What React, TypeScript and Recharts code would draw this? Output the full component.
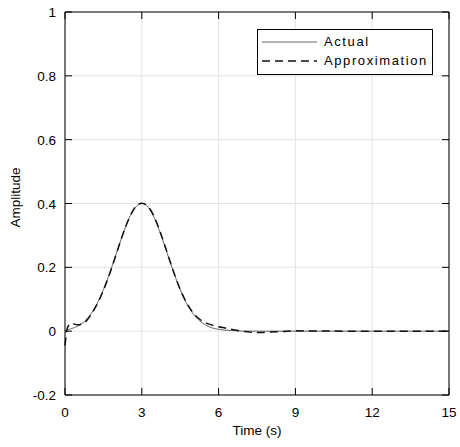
import React from 'react';
import { LineChart, Line, XAxis, YAxis, CartesianGrid, Legend } from 'recharts';

const times = [0, 0.1, 0.25, 0.5, 0.75, 1, 1.25, 1.5, 1.75, 2, 2.25, 2.5, 2.75, 3, 3.25, 3.5, 3.75, 4, 4.25, 4.5, 4.75, 5, 5.25, 5.5, 5.75, 6, 6.25, 6.5, 6.75, 7, 7.25, 7.5, 7.75, 8, 8.5, 9, 10, 11, 12, 13, 14, 15];
const actual = [0.0, 0.004, 0.008, 0.016, 0.03, 0.053, 0.086, 0.13, 0.183, 0.242, 0.302, 0.353, 0.388, 0.4, 0.388, 0.353, 0.301, 0.242, 0.183, 0.13, 0.087, 0.055, 0.033, 0.019, 0.01, 0.006, 0.003, 0.002, 0.001, 0, 0, 0, 0, 0, 0, 0, 0, 0, 0, 0, 0, 0];
const approx = [-0.045, 0.012, 0.024, 0.02, 0.026, 0.05, 0.084, 0.128, 0.181, 0.241, 0.301, 0.353, 0.389, 0.401, 0.39, 0.356, 0.304, 0.244, 0.184, 0.131, 0.089, 0.058, 0.038, 0.026, 0.019, 0.014, 0.01, 0.006, 0.002, -0.001, -0.003, -0.004, -0.004, -0.003, -0.001, 0.001, 0.0005, 0, 0, 0, 0, 0];

const xTicks = [0, 3, 6, 9, 12, 15];
const yTicks = [-0.2, 0, 0.2, 0.4, 0.6, 0.8, 1];

const seriesNames = { actual: 'Actual', approx: 'Approximation' };

const data = times.map((t, i) => ({ t, actual: actual[i], approx: approx[i] }));

const FONT = '"Liberation Sans", Arial, Helvetica, sans-serif';
const TICK_LEN = 7;

const BottomTick = (props: any) => {
  const { x, y, payload } = props;
  return (
    <text x={x} y={y + 22} textAnchor="middle" fontFamily={FONT} fontSize={13.5} fill="#000">
      {payload.value}
    </text>
  );
};

const LeftTick = (props: any) => {
  const { x, y, payload } = props;
  return (
    <text x={x} y={y + 5} textAnchor="end" fontFamily={FONT} fontSize={13.5} fill="#000">
      {payload.value}
    </text>
  );
};

const NoText = () => <g />;

const YLabel = (props: any) => {
  const vb = props.viewBox || { x: 0, y: 12, width: 65, height: 383 };
  const cy = vb.y + vb.height / 2 - 6;
  return (
    <text x={20} y={cy} transform={`rotate(-90, 20, ${cy})`} textAnchor="middle" fontFamily={FONT} fontSize={13.5} fill="#000">
      Amplitude
    </text>
  );
};

const XLabel = (props: any) => {
  const vb = props.viewBox || { x: 65, y: 395, width: 384, height: 52 };
  const cx = vb.x + vb.width / 2;
  return (
    <text x={cx} y={435} textAnchor="middle" fontFamily={FONT} fontSize={13.5} fill="#000">
      Time (s)
    </text>
  );
};

const LegendBox = (props: any) => {
  const payload = (props.payload || []).filter((p: any) => p.type !== 'none');
  return (
    <div
      style={{
        border: '1px solid #000',
        background: '#fff',
        width: 176,
        height: 46,
        boxSizing: 'border-box',
        paddingTop: 2,
        fontFamily: FONT,
        fontSize: 13,
        letterSpacing: 1.6,
        color: '#000',
      }}
    >
      {payload.map((p: any) => (
        <div key={p.value} style={{ height: 19, display: 'flex', alignItems: 'center', whiteSpace: 'nowrap' }}>
          <svg width={60} height={10} style={{ marginLeft: 4, marginRight: 2, flex: 'none' }}>
            <line
              x1={0}
              x2={55}
              y1={5}
              y2={5}
              stroke={p.payload?.stroke || p.color}
              strokeWidth={p.payload?.strokeWidth || 1}
              strokeDasharray={p.payload?.strokeDasharray}
            />
          </svg>
          <span>{p.value}</span>
        </div>
      ))}
    </div>
  );
};

export default function App() {
  return (
    <div style={{ position: 'absolute', left: 0, top: 0, width: 460, height: 447, background: '#fff' }}>
      <LineChart width={460} height={447} data={data} margin={{ top: 11, right: 10, bottom: 0, left: 0 }}>
        <CartesianGrid stroke="#e3e3e3" strokeWidth={1} />
        <XAxis
          dataKey="t"
          type="number"
          domain={[0, 15]}
          ticks={xTicks}
          height={52}
          tickSize={-TICK_LEN}
          tickMargin={TICK_LEN}
          tick={<BottomTick />}
          axisLine={{ stroke: '#000', strokeWidth: 1 }}
          tickLine={{ stroke: '#000', strokeWidth: 1 }}
          interval={0}
          label={<XLabel />}
        />
        <XAxis
          xAxisId="top"
          dataKey="t"
          type="number"
          orientation="top"
          domain={[0, 15]}
          ticks={xTicks}
          height={1}
          tickSize={-TICK_LEN}
          tickMargin={0}
          tick={<NoText />}
          axisLine={{ stroke: '#000', strokeWidth: 1 }}
          tickLine={{ stroke: '#000', strokeWidth: 1 }}
          interval={0}
        />
        <YAxis
          type="number"
          domain={[-0.2, 1]}
          ticks={yTicks}
          width={65}
          tickSize={-TICK_LEN}
          tickMargin={16}
          tick={<LeftTick />}
          axisLine={{ stroke: '#000', strokeWidth: 1 }}
          tickLine={{ stroke: '#000', strokeWidth: 1 }}
          interval={0}
          label={<YLabel />}
        />
        <YAxis
          yAxisId="right"
          orientation="right"
          type="number"
          domain={[-0.2, 1]}
          ticks={yTicks}
          width={1}
          tickSize={-TICK_LEN}
          tickMargin={0}
          tick={<NoText />}
          axisLine={{ stroke: '#000', strokeWidth: 1 }}
          tickLine={{ stroke: '#000', strokeWidth: 1 }}
          interval={0}
        />
        <Legend
          layout="horizontal"
          verticalAlign="middle"
          align="center"
          content={<LegendBox />}
          wrapperStyle={{ position: 'absolute', left: 257, top: 29, width: 176, height: 46 }}
        />
        <Line
          xAxisId="top"
          yAxisId="right"
          dataKey="actual"
          stroke="none"
          legendType="none"
          dot={false}
          activeDot={false}
          isAnimationActive={false}
        />
        <Line
          type="monotone"
          dataKey="actual"
          name={seriesNames.actual}
          stroke="#666666"
          strokeWidth={1}
          dot={false}
          isAnimationActive={false}
        />
        <Line
          type="monotone"
          dataKey="approx"
          name={seriesNames.approx}
          stroke="#111111"
          strokeWidth={1.5}
          strokeDasharray="8 5"
          dot={false}
          isAnimationActive={false}
        />
      </LineChart>
    </div>
  );
}
